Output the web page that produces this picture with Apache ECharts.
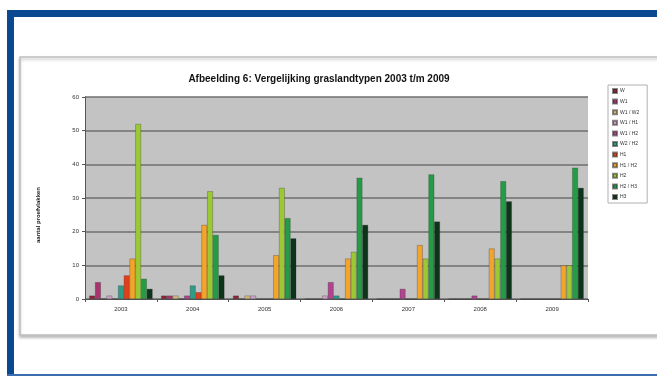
<!DOCTYPE html>
<html>
<head>
<meta charset="utf-8">
<script src="https://cdn.jsdelivr.net/npm/echarts@6/dist/echarts.min.js"></script>
<style>
  html, body { margin: 0; padding: 0; background: #fff; }
  #wrap { position: relative; width: 657px; height: 376px; overflow: hidden; }
  #chart { position: absolute; left: 0; top: 0; width: 657px; height: 376px; }
  .frame { position: absolute; background: #0B4892; }
</style>
</head>
<body>
<div id="wrap">
  <div id="chart"></div>
  <div class="frame" style="left:7px;top:10px;width:650px;height:7px;"></div>
  <div class="frame" style="left:7px;top:10px;width:7px;height:366px;"></div>
  <div class="frame" style="left:7px;top:374px;width:650px;height:2px;background:#3C6DB0;"></div>
</div>
<script>
// Years on the category axis
const years = ['2003', '2004', '2005', '2006', '2007', '2008', '2009'];

// Grassland types (legend order)
const typeNames = ['W', 'W1', 'W1 / W2', 'W1 / H1', 'W1 / H2', 'W2 / H2', 'H1', 'H1 / H2', 'H2', 'H2 / H3', 'H3'];

// Counts per grassland type, one value per year
const W      = [1, 1, 1, 0, 0, 0, 0];
const W1     = [5, 1, 0, 0, 0, 0, 0];
const W1_W2  = [0, 1, 1, 0, 0, 0, 0];
const W1_H1  = [1, 0, 1, 1, 0, 0, 0];
const W1_H2  = [0, 1, 0, 5, 3, 1, 0];
const W2_H2  = [4, 4, 0, 1, 0, 0, 0];
const H1     = [7, 2, 0, 0, 0, 0, 0];
const H1_H2  = [12, 22, 13, 12, 16, 15, 10];
const H2     = [52, 32, 33, 14, 12, 12, 10];
const H2_H3  = [6, 19, 24, 36, 37, 35, 39];
const H3     = [3, 7, 18, 22, 23, 29, 33];

// Value axis ticks
const yTicks = [0, 10, 20, 30, 40, 50, 60];

const seriesValues = [W, W1, W1_W2, W1_H1, W1_H2, W2_H2, H1, H1_H2, H2, H2_H3, H3];
const colors = ['#8E2438', '#A8336E', '#D9B77A', '#CFA2C6', '#B0458E', '#2F9C86',
                '#E2401C', '#F2A52A', '#9CC834', '#249C46', '#0B3418'];

const chart = echarts.init(document.getElementById('chart'), null, { renderer: 'canvas' });

chart.setOption({
  animation: false,
  backgroundColor: 'transparent',
  color: colors,
  graphic: [
    {
      type: 'rect', z: -10,
      shape: { x: 20, y: 57, width: 660, height: 278 },
      style: { fill: '#ffffff', stroke: '#BEBEBE', lineWidth: 1.5,
               shadowColor: 'rgba(0,0,0,0.25)', shadowBlur: 3, shadowOffsetY: 2 }
    },
    {
      type: 'text', z: 10,
      x: 38, y: 215, rotation: Math.PI / 2,
      style: { text: 'aantal proefvlakken', fill: '#222', font: 'bold 6px "Liberation Sans", Arial, sans-serif',
               align: 'center', verticalAlign: 'middle' }
    }
  ],
  title: {
    text: 'Afbeelding 6: Vergelijking graslandtypen 2003 t/m 2009',
    left: 314, top: 69, textAlign: 'center',
    textStyle: { fontFamily: '"Liberation Sans", Arial, sans-serif', fontSize: 10, fontWeight: 'bold', color: '#111' }
  },
  legend: {
    orient: 'vertical',
    left: 608, top: 85,
    data: typeNames,
    icon: 'rect',
    itemWidth: 4, itemHeight: 4, itemGap: 4.6,
    padding: [3, 8, 3, 4],
    borderColor: '#B0B0B0', borderWidth: 1,
    textStyle: { fontFamily: '"Liberation Sans", Arial, sans-serif', fontSize: 5, lineHeight: 6, color: '#333', padding: [0, 0, 0, -2] }
  },
  grid: {
    left: 85, right: 69, top: 97, bottom: 77,
    show: true, backgroundColor: '#C3C3C3', borderWidth: 0
  },
  xAxis: {
    type: 'category',
    data: years,
    axisLine: { lineStyle: { color: '#555', width: 1 } },
    axisTick: { show: true, alignWithLabel: false, length: 3, lineStyle: { color: '#555' } },
    axisLabel: { fontFamily: '"Liberation Sans", Arial, sans-serif', fontSize: 6, color: '#333', margin: 7 }
  },
  yAxis: {
    type: 'value',
    min: yTicks[0], max: yTicks[yTicks.length - 1], interval: 10,
    axisLine: { show: true, lineStyle: { color: '#555', width: 1 } },
    axisTick: { show: true, length: 3, lineStyle: { color: '#555' } },
    axisLabel: { fontFamily: '"Liberation Sans", Arial, sans-serif', fontSize: 6, color: '#333', margin: 6 },
    splitLine: { lineStyle: { color: '#6F6F6F', width: 1.6 } }
  },
  series: typeNames.map((name, i) => ({
    name: name,
    type: 'bar',
    data: seriesValues[i],
    barGap: '0%',
    barCategoryGap: '12%',
    itemStyle: { color: colors[i], borderColor: 'rgba(40,40,40,0.55)', borderWidth: 0.5 }
  }))
});
</script>
</body>
</html>
